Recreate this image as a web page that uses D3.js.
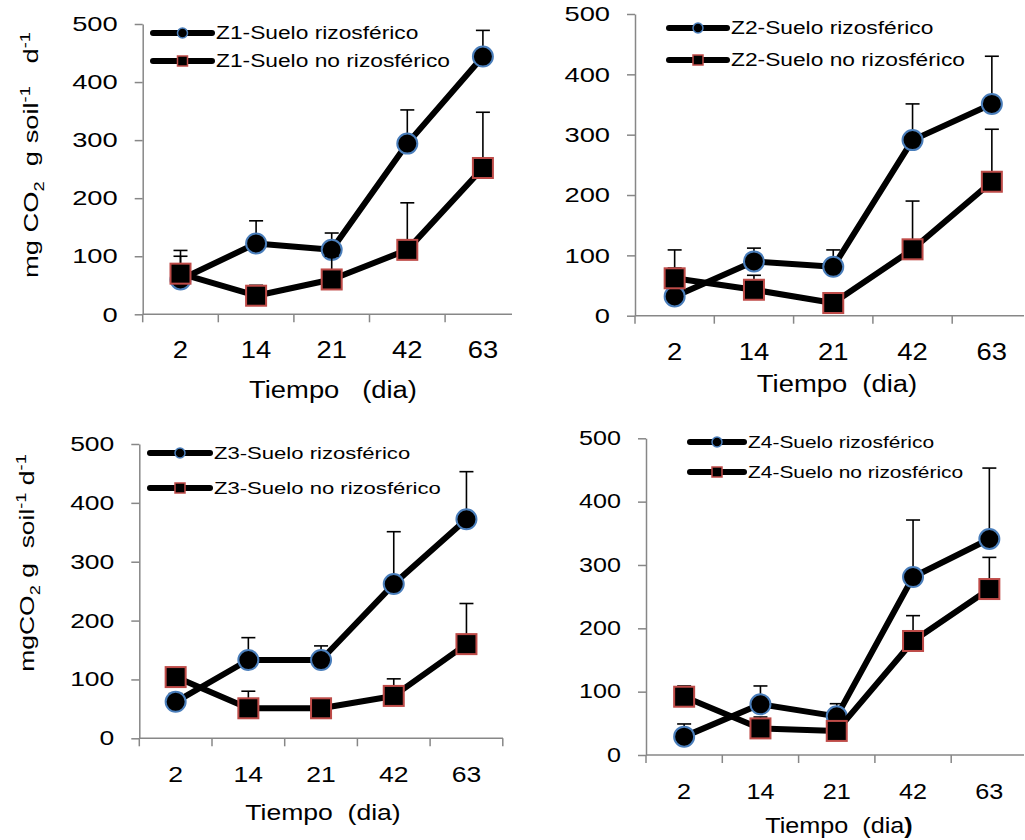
<!DOCTYPE html>
<html>
<head>
<meta charset="utf-8">
<script src="https://cdn.jsdelivr.net/npm/d3@7"></script>
<style>
  body { margin: 0; background: #fff; }
  svg { display: block; font-family: "Liberation Sans", Arial, sans-serif; }
  text { white-space: pre; }
</style>
</head>
<body>
<svg id="chart" width="1025" height="840"></svg>
<script>
// sampling days (categories)
const days = ["2", "14", "21", "42", "63"];
const yTicks = [0, 100, 200, 300, 400, 500];

// means, with upper error (SD) amounts
const z1Rizo = [60, 122, 111, 294, 444];
const z1RizoErr = [50, 39, 29, 58, 45];
const z1NoRizo = [70, 32, 60, 111, 252];
const z1NoRizoErr = [30, 18, 40, 81, 96];

const z2Rizo = [32, 90, 81, 291, 351];
const z2RizoErr = [47, 22, 28, 60, 79];
const z2NoRizo = [62, 43, 21, 110, 222];
const z2NoRizoErr = [47, 24, 9, 80, 87];

const z3Rizo = [62, 133, 133, 262, 372];
const z3RizoErr = [14, 38, 24, 89, 81];
const z3NoRizo = [104, 51, 51, 72, 160];
const z3NoRizoErr = [16, 29, 9, 29, 69];

const z4Rizo = [29, 80, 61, 281, 341];
const z4RizoErr = [20, 29, 20, 90, 112];
const z4NoRizo = [92, 42, 38, 180, 262];
const z4NoRizoErr = [17, 18, 17, 40, 50];

// panel layout (pixels), kept apart from the data
const panels = [
  { zone: "Z1", rizo: z1Rizo, rizoErr: z1RizoErr, no: z1NoRizo, noErr: z1NoRizoErr,
    x0: 142.7, step: 75.6, axisEnd: 512, yTop: 24, yBot: 314.3, fs: 1,
    leg: { x1: 153, x2: 212, y1: 33, y2: 61 },
    xTitle: { x: 333, y: 398, text: "Tiempo   (dia)" },
    yTitle: { x: 38, y: 155, kind: 1 } },
  { zone: "Z2", rizo: z2Rizo, rizoErr: z2RizoErr, no: z2NoRizo, noErr: z2NoRizoErr,
    x0: 635, step: 79.3, axisEnd: 1024, yTop: 14, yBot: 315.7, fs: 1,
    leg: { x1: 669, x2: 727, y1: 28, y2: 60 },
    xTitle: { x: 837, y: 392, text: "Tiempo  (dia)" } },
  { zone: "Z3", rizo: z3Rizo, rizoErr: z3RizoErr, no: z3NoRizo, noErr: z3NoRizoErr,
    x0: 139.3, step: 72.7, axisEnd: 503, yTop: 444, yBot: 738.3, fs: 0.97,
    leg: { x1: 150, x2: 210, y1: 453, y2: 488 },
    xTitle: { x: 323, y: 820, text: "Tiempo  (dia)" },
    yTitle: { x: 34, y: 563, kind: 3 } },
  { zone: "Z4", rizo: z4Rizo, rizoErr: z4RizoErr, no: z4NoRizo, noErr: z4NoRizoErr,
    x0: 646, step: 76.3, axisEnd: 1024, yTop: 438.3, yBot: 755, fs: 0.92,
    leg: { x1: 690, x2: 744, y1: 442, y2: 472 },
    xTitle: { x: 839, y: 833, text: "Tiempo  (dia", boldParen: true } }
];

const axisGrey = "#878787";
const blue = "#4a7ebb";
const red = "#be4b48";
// the source figure's lettering is stretched sideways
const stretch = 1.3;
const xStretch = 1.19; // x labels are set a bit taller, so widen less

const svg = d3.select("#chart");

panels.forEach(p => {
  const g = svg.append("g");
  const x = d3.scaleBand().domain(days).range([p.x0, p.x0 + p.step * days.length]).padding(0);
  const y = d3.scaleLinear().domain([0, 500]).range([p.yBot, p.yTop]);
  const big = 21 * p.fs;
  const bigX = 23 * p.fs;

  // y axis
  const yAxis = g.append("g")
    .attr("transform", `translate(${p.x0},0)`)
    .call(d3.axisLeft(y).tickValues(yTicks).tickSize(8).tickSizeOuter(0).tickPadding(17));
  yAxis.select(".domain").attr("stroke", axisGrey).attr("stroke-width", 1.5);
  yAxis.selectAll(".tick line").attr("stroke", axisGrey).attr("stroke-width", 1.5);
  yAxis.selectAll(".tick text").attr("font-size", big).attr("fill", "#000")
    .attr("font-family", "Liberation Sans, Arial, sans-serif");

  // x axis: line plus ticks on the category boundaries
  g.append("line")
    .attr("x1", p.x0).attr("x2", p.axisEnd)
    .attr("y1", p.yBot).attr("y2", p.yBot)
    .attr("stroke", axisGrey).attr("stroke-width", 1.5);
  const bounds = d3.range(days.length + 1).map(i => p.x0 + i * x.step()).filter(v => v <= p.axisEnd + 1);
  g.selectAll(".xtick").data(bounds).join("line")
    .attr("x1", d => d).attr("x2", d => d)
    .attr("y1", p.yBot).attr("y2", p.yBot + 8)
    .attr("stroke", axisGrey).attr("stroke-width", 1.5);
  g.selectAll(".xlab").data(days).join("text")
    .attr("class", "xl")
    .attr("x", d => x(d) + x.bandwidth() / 2)
    .attr("y", p.yBot + 44)
    .attr("text-anchor", "middle")
    .attr("font-size", bigX)
    .text(d => d);

  // x title
  const xt = g.append("text")
    .attr("class", "xl")
    .attr("x", p.xTitle.x).attr("y", p.xTitle.y)
    .attr("text-anchor", "middle").attr("font-size", bigX)
    .text(p.xTitle.text);
  if (p.xTitle.boldParen) xt.append("tspan").attr("font-weight", "bold").text(")");

  // y title with sub/superscripts
  if (p.yTitle) {
    const yt = g.append("text")
      .attr("transform", `translate(${p.yTitle.x},${p.yTitle.y}) rotate(-90)`)
      .attr("text-anchor", "middle").attr("font-size", big);
    const parts = p.yTitle.kind === 1
      ? [["mg CO", 0], ["2", 1], ["  g soil", -1], ["-1", 2], ["   d", -2], ["-1", 2]]
      : [["mgCO", 0], ["2", 1], [" g  soil", -1], ["-1", 2], [" d", -2], ["-1", 2]];
    // 0 normal, 1 subscript, -1 back from sub, 2 superscript, -2 back from sup
    parts.forEach(([t, k]) => {
      const ts = yt.append("tspan").text(t);
      if (k === 1) ts.attr("dy", 6).attr("font-size", 14);
      if (k === -1) ts.attr("dy", -6);
      if (k === 2) ts.attr("dy", -8).attr("font-size", 14);
      if (k === -2) ts.attr("dy", 8);
    });
  }

  const cx = i => x(days[i]) + x.bandwidth() / 2;
  const line = d3.line().x((d, i) => cx(i)).y(d => y(d));

  function drawSeries(vals, errs, shape) {
    // upper error bars
    vals.forEach((v, i) => {
      g.append("line")
        .attr("x1", cx(i)).attr("x2", cx(i))
        .attr("y1", y(v)).attr("y2", y(v + errs[i]))
        .attr("stroke", "#000").attr("stroke-width", 1.6);
      g.append("line")
        .attr("x1", cx(i) - 7).attr("x2", cx(i) + 7)
        .attr("y1", y(v + errs[i])).attr("y2", y(v + errs[i]))
        .attr("stroke", "#000").attr("stroke-width", 1.6);
    });
    g.append("path").datum(vals)
      .attr("d", line)
      .attr("fill", "none").attr("stroke", "#000")
      .attr("stroke-width", 6).attr("stroke-linejoin", "round");
    if (shape === "circle") {
      g.selectAll(null).data(vals).join("circle")
        .attr("cx", (d, i) => cx(i)).attr("cy", d => y(d)).attr("r", 10)
        .attr("fill", "#000").attr("stroke", blue).attr("stroke-width", 2);
    } else {
      g.selectAll(null).data(vals).join("rect")
        .attr("x", (d, i) => cx(i) - 10).attr("y", d => y(d) - 10)
        .attr("width", 20).attr("height", 20)
        .attr("fill", "#000").attr("stroke", red).attr("stroke-width", 2);
    }
  }

  drawSeries(p.rizo, p.rizoErr, "circle");
  drawSeries(p.no, p.noErr, "square");

  // legend
  const L = p.leg;
  const mid = (L.x1 + L.x2) / 2;
  [[L.y1, "circle", p.zone + "-Suelo rizosférico"], [L.y2, "square", p.zone + "-Suelo no rizosférico"]]
    .forEach(([ly, shape, label]) => {
      g.append("line").attr("x1", L.x1).attr("x2", L.x2).attr("y1", ly).attr("y2", ly)
        .attr("stroke", "#000").attr("stroke-width", 6).attr("stroke-linecap", "round");
      if (shape === "circle") {
        g.append("circle").attr("cx", mid).attr("cy", ly).attr("r", 5)
          .attr("fill", "#000").attr("stroke", blue).attr("stroke-width", 1.5);
      } else {
        g.append("rect").attr("x", mid - 5).attr("y", ly - 5).attr("width", 10).attr("height", 10)
          .attr("fill", "#000").attr("stroke", red).attr("stroke-width", 1.5);
      }
      g.append("text").attr("x", L.x2 + 4).attr("y", ly).attr("dy", "0.35em")
        .attr("font-size", 17.5 * p.fs).text(label);
    });
});

// widen every label to the source's proportions
svg.selectAll("text").each(function () {
  const w = this.getComputedTextLength();
  const k = this.classList.contains("xl") ? xStretch : stretch;
  d3.select(this).attr("textLength", w * k).attr("lengthAdjust", "spacingAndGlyphs");
});
</script>
</body>
</html>
